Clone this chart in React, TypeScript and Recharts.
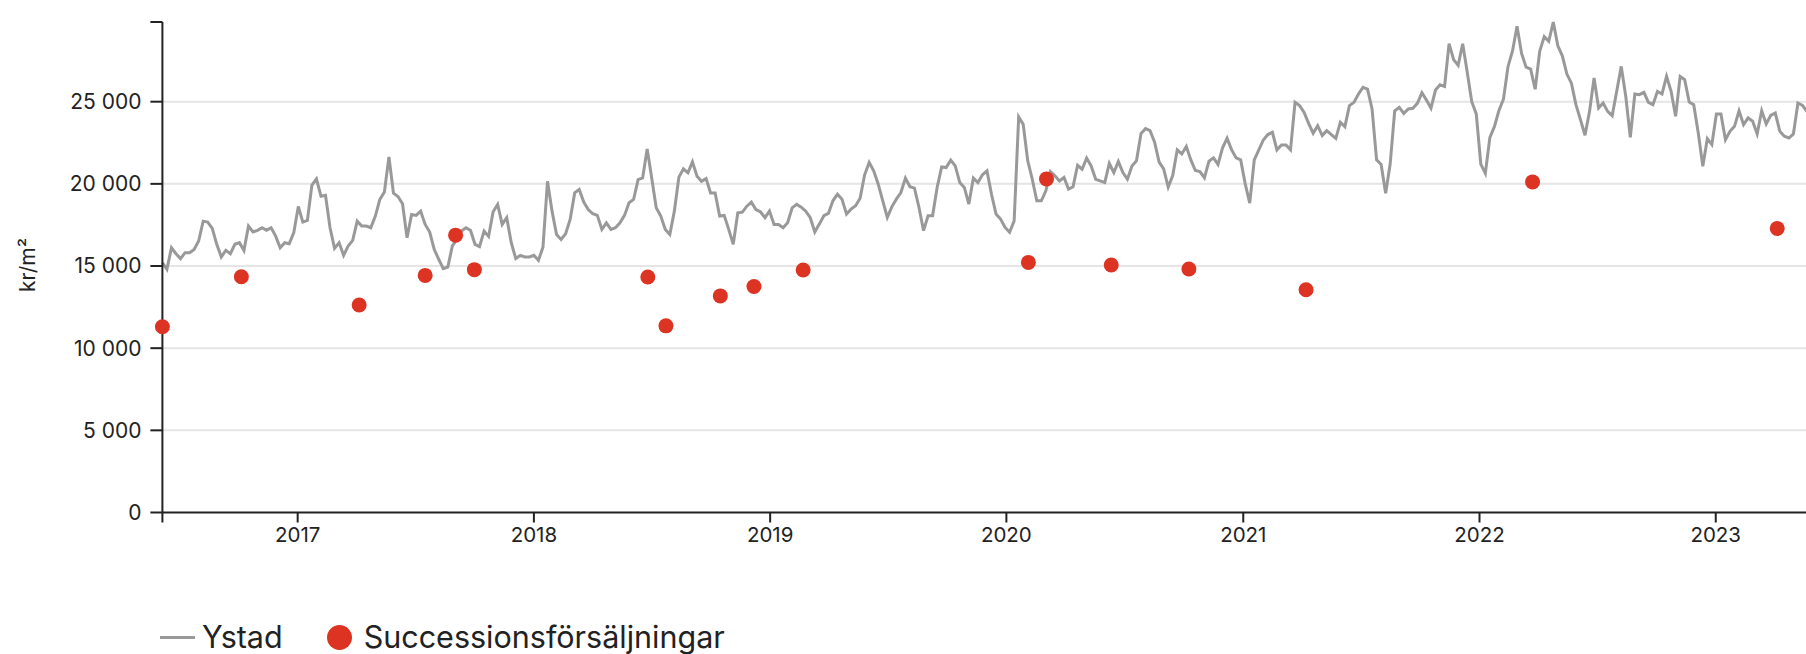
import React from 'react';
import { ComposedChart, Line, Scatter, XAxis, YAxis, CartesianGrid, Label } from 'recharts';

// weekly price per m2 for Ystad, first week 2016-06-06
const ystad = [
  15200, 14800, 16110, 15750, 15450, 15810, 15810, 16010, 16520, 17730,
  17670, 17290, 16320, 15550, 15950, 15750, 16320, 16420, 15950, 17430,
  17070, 17170, 17330, 17170, 17330, 16820, 16110, 16420, 16360, 17030,
  18620, 17670, 17770, 19920, 20300, 19250, 19310, 17330, 16070, 16420,
  15650, 16220, 16560, 17730, 17430, 17430, 17330, 18040, 19050, 19510,
  21640, 19430, 19230, 18790, 16720, 18140, 18080, 18340, 17530, 17070,
  16010, 15410, 14840, 14940, 16220, 16620, 17130, 17330, 17170, 16320,
  16180, 17130, 16800, 18300, 18750, 17530, 17940, 16420, 15450, 15650,
  15550, 15550, 15650, 15350, 16150, 20160, 18340, 16920, 16620, 16960,
  17830, 19450, 19660, 18890, 18440, 18180, 18080, 17230, 17630, 17230,
  17330, 17630, 18080, 18850, 19050, 20260, 20360, 22130, 20360, 18540,
  18040, 17230, 16920, 18340, 20410, 20910, 20670, 21340, 20470, 20160,
  20320, 19450, 19450, 18040, 18080, 17230, 16320, 18240, 18280, 18640,
  18890, 18440, 18300, 17940, 18340, 17530, 17530, 17330, 17630, 18540,
  18750, 18580, 18340, 17940, 17070, 17550, 18060, 18200, 18970, 19370,
  19070, 18160, 18460, 18670, 19130, 20550, 21300, 20790, 19980, 18970,
  17960, 18600, 19070, 19470, 20350, 19820, 19740, 18560, 17150, 18060,
  18060, 19780, 21030, 20990, 21440, 21090, 20080, 19780, 18770, 20350,
  20080, 20550, 20790, 19370, 18160, 17860, 17350, 17050, 17750, 24070,
  23620, 21400, 20280, 18970, 18970, 19580, 20750, 20490, 20180, 20390,
  19680, 19820, 21130, 20890, 21560, 21090, 20280, 20180, 20080, 21240,
  20690, 21360, 20690, 20280, 21090, 21400, 23060, 23360, 23240, 22530,
  21320, 20910, 19800, 20510, 22070, 21820, 22270, 21460, 20810, 20750,
  20370, 21380, 21580, 21180, 22190, 22770, 22070, 21580, 21460, 20000,
  18830, 21460, 22070, 22670, 23000, 23140, 22070, 22370, 22370, 22070,
  24960, 24760, 24350, 23680, 23080, 23540, 22940, 23240, 23000, 22770,
  23750, 23480, 24760, 24960, 25470, 25870, 25770, 24560, 21460, 21180,
  19430, 21220, 24450, 24660, 24290, 24560, 24600, 24900, 25550, 25100,
  24600, 25710, 26030, 25930, 28530, 27560, 27210, 28530, 26810, 25000,
  24260, 21200, 20640, 22820, 23480, 24460, 25150, 27130, 28090, 29590,
  27940, 27100, 26980, 25760, 28070, 28960, 28680, 29850, 28400, 27790,
  26680, 26130, 24820, 23910, 22960, 24410, 26440, 24620, 24920, 24410,
  24150, 25630, 27150, 25320, 22830, 25470, 25430, 25570, 24960, 24820,
  25630, 25470, 26540, 25630, 24110, 26540, 26340, 24980, 24820, 23100,
  21070, 22750, 22390, 24250, 24250, 22690, 23200, 23500, 24450, 23600,
  24010, 23810, 23040, 24450, 23640, 24170, 24310, 23200, 22900, 22790,
  23040, 24920, 24780, 24400,
];

const saleDates = [
  '2016-06-06', '2016-10-06', '2017-04-06', '2017-07-17', '2017-09-02', '2017-10-01',
  '2018-06-26', '2018-07-24', '2018-10-16', '2018-12-07', '2019-02-21', '2020-02-04',
  '2020-03-03', '2020-06-11', '2020-10-09', '2021-04-08', '2022-03-24', '2023-04-06',
];
const saleValues = [
  11300, 14350, 12630, 14430, 16880, 14780,
  14330, 11360, 13180, 13750, 14760, 15220,
  20300, 15060, 14820, 13560, 20120, 17290,
];

const years = [2017, 2018, 2019, 2020, 2021, 2022, 2023];
const yTicks = [0, 5000, 10000, 15000, 20000, 25000];

const START = Date.UTC(2016, 5, 6);
const WEEK = 7 * 24 * 3600 * 1000;

const lineData = ystad.map((v, i) => ({ t: START + i * WEEK, v }));
const dotData = saleDates.map((d, i) => ({ t: Date.parse(d), v: saleValues[i] }));
const yearTicks = years.map((y) => Date.UTC(y, 0, 1));
const yMax = Math.max(...ystad);

const FONT = 'Inter, sans-serif';
const INK = '#222';
const GREY = '#999';
const RED = '#dc3323';

const fmtY = (v: number) => (v > 25000 ? '' : v.toLocaleString('en-US').replace(',', ' '));
const fmtX = (v: number) => (v === START ? '' : String(new Date(v).getUTCFullYear()));

const renderYLabel = () => (
  <text
    x={27}
    y={265}
    transform="rotate(-90 27 265)"
    textAnchor="middle"
    dominantBaseline="central"
    fill={INK}
    fontSize={21}
    fontFamily={FONT}
  >
    kr/m²
  </text>
);

const Dot = (props: any) => <circle cx={props.cx} cy={props.cy} r={7.5} fill={RED} />;

const App = () => {
  return (
    <div
      style={{
        position: 'fixed', left: 0, top: 0, width: 1806, height: 654,
        overflow: 'hidden', background: '#fff', fontFamily: FONT,
      }}
    >
      <ComposedChart
        width={1807}
        height={654}
        margin={{ top: 22, right: 0, bottom: 101.5, left: 62.4 }}
      >
        <CartesianGrid
          horizontal
          vertical={false}
          horizontalValues={[5000, 10000, 15000, 20000, 25000]}
          stroke="#e5e5e5"
          strokeWidth={2}
        />
        <XAxis
          type="number"
          dataKey="t"
          domain={[START, START + (ystad.length - 1) * WEEK]}
          ticks={[START, ...yearTicks]}
          tickFormatter={fmtX}
          height={40}
          tickSize={10}
          tickMargin={5}
          axisLine={{ stroke: INK, strokeWidth: 2 }}
          tickLine={{ stroke: INK, strokeWidth: 2 }}
          tick={{ fill: INK, fontSize: 20.5, fontFamily: FONT }}
        />
        <YAxis
          type="number"
          domain={[0, yMax]}
          ticks={[...yTicks, yMax]}
          tickFormatter={fmtY}
          width={100}
          tickSize={12}
          tickMargin={9}
          axisLine={{ stroke: INK, strokeWidth: 2 }}
          tickLine={{ stroke: INK, strokeWidth: 2 }}
          tick={{ fill: INK, fontSize: 21, fontFamily: FONT }}
        >
          <Label content={renderYLabel} />
        </YAxis>
        <Line
          data={lineData}
          dataKey="v"
          type="linear"
          stroke={GREY}
          strokeWidth={3}
          dot={false}
          activeDot={false}
          isAnimationActive={false}
        />
        <Scatter data={dotData} dataKey="v" fill={RED} shape={Dot} isAnimationActive={false} />
      </ComposedChart>
      <div
        style={{
          position: 'absolute', left: 160, top: 619, display: 'flex', alignItems: 'center',
          fontSize: 30.5, color: INK, lineHeight: '36px', whiteSpace: 'nowrap',
        }}
      >
        <span style={{ display: 'inline-block', width: 35, height: 3, background: GREY, marginRight: 7 }} />
        <span>Ystad</span>
        <span
          style={{
            display: 'inline-block', width: 25, height: 25, borderRadius: '50%',
            background: RED, marginLeft: 44, marginRight: 12,
          }}
        />
        <span>Successionsförsäljningar</span>
      </div>
    </div>
  );
};

export default App;
